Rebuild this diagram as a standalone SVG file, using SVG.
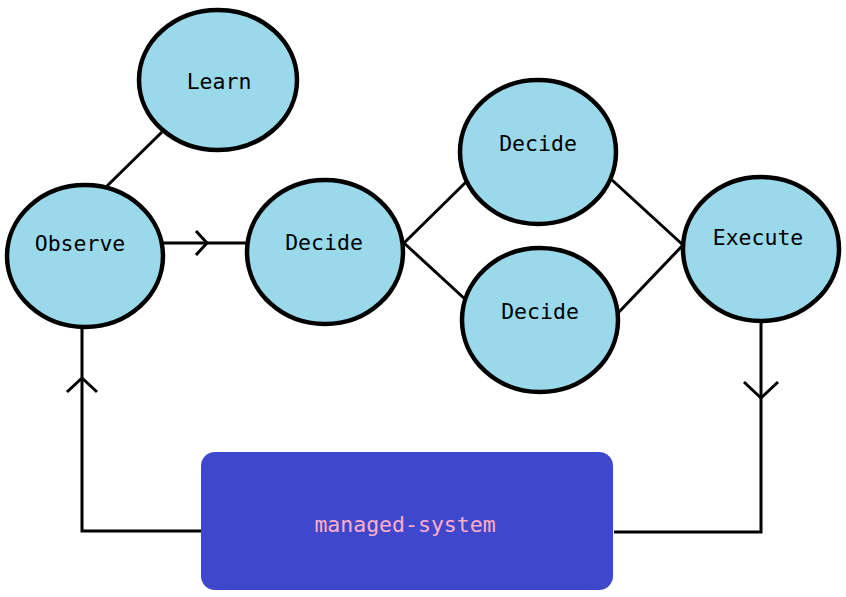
<svg xmlns="http://www.w3.org/2000/svg" width="846" height="597" viewBox="0 0 846 597">
<style>
.node ellipse{fill:#99d9ea;stroke:#000;stroke-width:4.5}
.lbl{font-family:"DejaVu Sans Mono","Liberation Mono",monospace;font-size:21.5px;fill:#000;text-anchor:middle;dominant-baseline:central}
.edge{fill:none;stroke:#000;stroke-width:3;stroke-linecap:butt;stroke-linejoin:miter}
</style>
<rect width="846" height="597" fill="#fff"/>
<g id="connectors">
<path class="edge" d="M162,132 L107,186"/>
<path class="edge" d="M163,243 L247,243"/>
<path class="edge" d="M196,231 L207,243 L196,255"/>
<path class="edge" d="M404,243 L466,182"/>
<path class="edge" d="M404,243 L466,300"/>
<path class="edge" d="M612,180 L683,245"/>
<path class="edge" d="M619,312 L683,245"/>
<path class="edge" d="M761,322 L761,532 L614,532"/>
<path class="edge" d="M744,382 L761,398 L778,382"/>
<path class="edge" d="M201,531 L82,531 L82,328"/>
<path class="edge" d="M67,392 L82,378 L97,392"/>
</g>
<g id="learn" class="node"><ellipse cx="218" cy="80" rx="79" ry="70"/><text class="lbl" x="219" y="81">Learn</text></g>
<g id="observe" class="node"><ellipse cx="85" cy="256" rx="78" ry="71"/><text class="lbl" x="80" y="243">Observe</text></g>
<g id="decide1" class="node"><ellipse cx="325" cy="252" rx="78" ry="72"/><text class="lbl" x="324" y="242">Decide</text></g>
<g id="decide2" class="node"><ellipse cx="538" cy="152" rx="78" ry="72"/><text class="lbl" x="538" y="143">Decide</text></g>
<g id="decide3" class="node"><ellipse cx="540" cy="320" rx="78" ry="72"/><text class="lbl" x="540" y="311">Decide</text></g>
<g id="execute" class="node"><ellipse cx="761" cy="249" rx="78" ry="72"/><text class="lbl" x="758" y="237">Execute</text></g>
<g id="managed-system"><rect x="201" y="452" width="412" height="138" rx="14" fill="#3f48cc"/><text class="lbl" x="405" y="524" style="fill:#ffaec9">managed-system</text></g>
</svg>
